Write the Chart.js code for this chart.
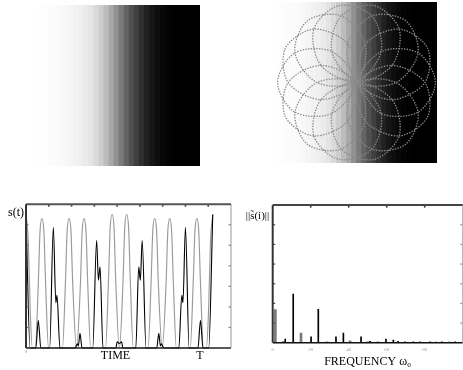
<!DOCTYPE html>
<html><head><meta charset="utf-8">
<script src="https://cdn.jsdelivr.net/npm/chart.js@4.4.1/dist/chart.umd.min.js"></script>
<style>
html,body{margin:0;padding:0;background:#fff;overflow:hidden;width:463px;height:370px;}
canvas{position:absolute;display:block;}
</style></head><body>
<canvas id="c1" width="162" height="161" style="left:38px;top:5px"></canvas>
<canvas id="c2" width="161" height="161" style="left:276px;top:2px"></canvas>
<canvas id="c2r" width="161" height="161" style="left:276px;top:2px"></canvas>
<canvas id="c3" width="235" height="175" style="left:0px;top:195px"></canvas>
<canvas id="c4" width="232" height="175" style="left:235px;top:195px"></canvas>
<script>
// ---------- data ----------
// grey level of each vertical band of the shaded squares (left -> right)
const greyLevels = [254,253,252,251,250,248,245,242,239,235,228,218,205,188,168,145,122,100,80,63,47,33,22,14,8,4,2,0,0,0,0,0];
const bandFill   = [1,1,1,1,1,1,1,1,1,1,1,1,1,1,1,1,1,1,1,1,1,1,1,1,1,1,1,1,1,1,1,1];

// dotted rose curve (unit radius, centre of the right square)
const roseX = [0,
 0.312,0.780,1,0.780,0.312,0,
 0.111,0.540,0.901,0.866,0.450,0,
 -0.111,0.193,0.623,0.780,0.5,0,
 -0.312,-0.193,0.223,0.540,0.450,0,
 -0.450,-0.540,-0.223,0.193,0.312,0,
 -0.5,-0.780,-0.623,-0.193,0.111,0,
 -0.450,-0.866,-0.901,-0.540,-0.111,0,
 -0.312,-0.780,-1,-0.780,-0.312,0,
 -0.111,-0.540,-0.901,-0.866,-0.450,0,
 0.111,-0.193,-0.623,-0.780,-0.5,0,
 0.312,0.193,-0.223,-0.540,-0.450,0,
 0.450,0.540,0.223,-0.193,-0.312,0,
 0.5,0.780,0.623,0.193,-0.111,0,
 0.450,0.866,0.901,0.540,0.111,0];
const roseY = [0,
 -0.391,-0.376,0,0.376,0.391,0,
 -0.487,-0.677,-0.434,0,0.217,0,
 -0.487,-0.844,-0.782,-0.376,0,0,
 -0.391,-0.844,-0.975,-0.677,-0.217,0,
 -0.217,-0.677,-0.975,-0.844,-0.391,0,
 0,-0.376,-0.782,-0.844,-0.487,0,
 0.217,0,-0.434,-0.677,-0.487,0,
 0.391,0.376,0,-0.376,-0.391,0,
 0.487,0.677,0.434,0,-0.217,0,
 0.487,0.844,0.782,0.376,0,0,
 0.391,0.844,0.975,0.677,0.217,0,
 0.217,0.677,0.975,0.844,0.391,0,
 0,0.376,0.782,0.844,0.487,0,
 -0.217,0,0.434,0.677,0.487,0];

// s(t) : two traces over TIME
const timeGreyX = [0,1.0,1.8,2.8,
 4.1,5.4,6.15,7.0,7.85,8.6,9.9,
 16.0,17.3,18.05,18.9,19.75,20.5,22.2,23.9,24.65,25.5,26.35,27.1,28.4,
 34.9,36.2,36.95,37.8,38.65,39.4,41.0,42.6,43.35,44.2,45.05,45.8,47.1,
 53.6,54.9,55.65,56.5,57.35,58.1,59.8,61.5,62.25,63.1,63.95,64.7,66.0,
 72.1,73.4,74.15,75.0,75.85,76.6,77.9,
 79.2,80.2,81.0,82.0];
const timeGreyY = [65,52,20,0,
 0,31.5,56.7,63,56.7,31.5,0,
 0,31.5,56.7,63,56.7,31.5,0,31.5,56.7,63,56.7,31.5,0,
 0,32.5,58.5,65,58.5,32.5,0,32.5,58.5,65,58.5,32.5,0,
 0,31.5,56.7,63,56.7,31.5,0,31.5,56.7,63,56.7,31.5,0,
 0,31.5,56.7,63,56.7,31.5,0,
 0,20,52,65];
const timeBlackX = [0,1.8,4.3,5.4,6.5,10.4,12.0,13.1,13.6,14.9,21.5,22.5,23.0,23.7,24.6,29.3,31.0,31.8,32.5,33.8,39.5,40.0,41.0,42.0,42.5,48.2,49.5,50.2,51.0,52.7,57.4,58.3,59.0,59.5,60.5,67.1,68.4,68.9,70.0,71.6,75.5,76.6,77.7,80.2,82.0];
const timeBlackY = [65,0,0,13.5,0,0,58.8,22,25.7,0,0,2,1,7.2,0,0,52.3,33,39.5,0,0,3,2.2,3,0,0,39.5,33,52.3,0,0,7.2,1,2,0,0,25.7,22,58.8,0,0,13.5,0,0,65];
const timeLabels = ['0','TIME','T'];
const timeLabelPos = [0,39.3,76.4];
const timeTicksX = [10,20,30,40,50,60,70,80];
const timeTicksY = [10,20,30,40,50,60];
const sLabel = 's(t)';

// ||s~(i)|| : spectrum over FREQUENCY
const freqGreyX = [1.4,5.6,14.9,28.6,40.7,50.0,55.3];
const freqGreyY = [16.9,0.6,4.9,0.5,1.0,0.5,0.5];
const freqBlackX = [6.6,10.8,20.2,24.0,33.3,37.2,46.5,51.2,59.6,63.5,66.0,69.6,74.0,77.5,82.8,86.0,89.0,93.0,96.0];
const freqBlackY = [1.8,24.7,3.0,17.0,3.0,4.9,3.0,0.7,1.8,1.3,0.7,0.5,0.4,0.5,0.4,0.3,0.4,0.3,0.4];
const freqTicksX = [20,40,60,80];
const freqTicksY = [10,20,30,40,50,60];
const specLabel = '||s\u0303(i)||';
const freqTitle = 'FREQUENCY \u03c9\u2080';

// ---------- helpers ----------
const SERIF = "'Liberation Serif','Times New Roman',serif";
Chart.defaults.font.family = SERIF;
Chart.defaults.plugins.legend.display = false;
Chart.defaults.plugins.tooltip.enabled = false;

const zip = (xs, ys) => xs.map((x, i) => ({x, y: ys[i]}));
const bandLabels = greyLevels.map((_, i) => String(i));
const bandColors = greyLevels.map(g => `rgb(${g},${g},${g})`);

function framePlugin(o) {
  return { id:'frame', afterDatasetsDraw(chart) {
    const {ctx, chartArea:a, scales} = chart;
    const xs = scales.x, ys = scales.y;
    const seg = (x1,y1,x2,y2,c,w) => { ctx.strokeStyle=c; ctx.lineWidth=w; ctx.beginPath(); ctx.moveTo(x1,y1); ctx.lineTo(x2,y2); ctx.stroke(); };
    ctx.save();
    o.xTicks.forEach(v => { const p = xs.getPixelForValue(v); seg(p, a.top, p, a.top + o.len, o.topTick, 1.6); });
    o.yTicks.forEach(v => { const p = ys.getPixelForValue(v);
      seg(a.left, p, a.left + o.len, p, o.leftTick, 1.2);
      seg(a.right, p, a.right - o.len, p, o.rightTick, 1.2); });
    seg(a.left, a.bottom, a.right, a.bottom, o.bottom[0], o.bottom[1]);
    seg(a.right, a.top, a.right, a.bottom, o.right[0], o.right[1]);
    seg(a.left, a.top, a.right, a.top, o.top[0], o.top[1]);
    seg(a.left, a.top, a.left, a.bottom, o.left[0], o.left[1]);
    ctx.restore();
  }};
}

const common = {responsive:false, animation:false, devicePixelRatio:1, events:[]};

function gradientChart(id) {
  return new Chart(document.getElementById(id), {
    type:'bar',
    data:{labels: bandLabels, datasets:[{data: bandFill, backgroundColor: bandColors, borderWidth:0,
           barPercentage:1, categoryPercentage:1}]},
    options:{...common, layout:{padding:0},
      scales:{ x:{type:'category', display:false}, y:{type:'linear', min:0, max:1, display:false} } }
  });
}

// ---------- top : shaded squares ----------
gradientChart('c1');
gradientChart('c2');

// ---------- top right : dotted rose over the shading ----------
new Chart(document.getElementById('c2r'), {
  type:'scatter',
  data:{datasets:[
    {data: zip(roseX, roseY), showLine:true, tension:0.32, pointRadius:0,
     borderColor:'#8a8a8a', borderWidth:1.3, borderDash:[1.4,1.3], clip:false}
  ]},
  options:{...common, layout:{padding:0},
    scales:{ x:{type:'linear', min:-1.02, max:1.02, display:false}, y:{type:'linear', min:-1.02, max:1.02, display:false} } }
});

// ---------- bottom left : s(t) over TIME ----------
new Chart(document.getElementById('c3'), {
  type:'line',
  data:{datasets:[
    {data: zip(timeBlackX, timeBlackY), borderColor:'#000', borderWidth:1.1, pointRadius:0, cubicInterpolationMode:'monotone', order:0, clip:false},
    {data: zip(timeGreyX, timeGreyY), borderColor:'#999', borderWidth:1.15, pointRadius:0, cubicInterpolationMode:'monotone', order:1, clip:false}
  ]},
  options:{...common, layout:{padding:{left:0, right:4, top:8, bottom:0}},
    scales:{
      x:{type:'linear', min:0, max:90, grid:{display:false, drawTicks:false}, border:{display:false},
         afterBuildTicks: s => { s.ticks = timeLabelPos.map(v => ({value:v})); },
         afterFit: s => { s.height = 22; },
         ticks:{autoSkip:false, maxRotation:0, padding:1,
           callback:(v, i) => timeLabels[i],
           color: c => c.index === 0 ? '#999' : '#000',
           font: c => c.index === 0 ? {size:5, family:SERIF} : {size:12, family:SERIF}}},
      y:{type:'linear', min:0, max:70, grid:{display:false, drawTicks:false}, border:{display:false},
         afterBuildTicks: s => { s.ticks = [{value:66}]; },
         afterFit: s => { s.width = 26; },
         ticks:{padding:2, color:'#000', font:{size:12, family:SERIF}, callback: () => sLabel}}
    }},
  plugins:[framePlugin({xTicks: timeTicksX, yTicks: timeTicksY, len:2.5, topTick:'#444', leftTick:'#777', rightTick:'#888',
    top:['#555',2], left:['#333',2], bottom:['#222',1.5], right:['#999',1]})]
});

// ---------- bottom right : spectrum over FREQUENCY ----------
new Chart(document.getElementById('c4'), {
  type:'bar',
  data:{datasets:[
    {data: zip(freqBlackX, freqBlackY), backgroundColor:'#000', barThickness:1, grouped:false, order:0},
    {data: zip(freqGreyX, freqGreyY), backgroundColor:'#7a7a7a', barThickness:2, grouped:false, order:1}
  ]},
  options:{...common, layout:{padding:{left:0, right:4.3, top:6, bottom:0}},
    scales:{
      x:{type:'linear', min:0, max:100, offset:false, grid:{display:false, drawTicks:false, offset:false}, border:{display:false},
         afterFit: s => { s.height = 27.3; },
         ticks:{stepSize:20, autoSkip:false, maxRotation:0, padding:4, color:'#999', font:{size:5, family:SERIF},
           callback: v => (v === 100 ? '' : String(v))},
         title:{display:true, text: freqTitle, color:'#000', font:{size:12, family:SERIF}, padding:{top:0, bottom:1}}},
      y:{type:'linear', min:0, max:70, grid:{display:false, drawTicks:false}, border:{display:false},
         afterBuildTicks: s => { s.ticks = [{value:64.6}]; },
         afterFit: s => { s.width = 37.7; },
         ticks:{padding:3.5, color:'#000', font:{size:11, family:SERIF}, callback: () => specLabel}}
    }},
  plugins:[framePlugin({xTicks: freqTicksX, yTicks: freqTicksY, len:2.5, topTick:'#333', leftTick:'#555', rightTick:'#999',
    top:['#444',2], left:['#333',2], bottom:['#111',1.5], right:['#aaa',1]})]
});
</script></body></html>
